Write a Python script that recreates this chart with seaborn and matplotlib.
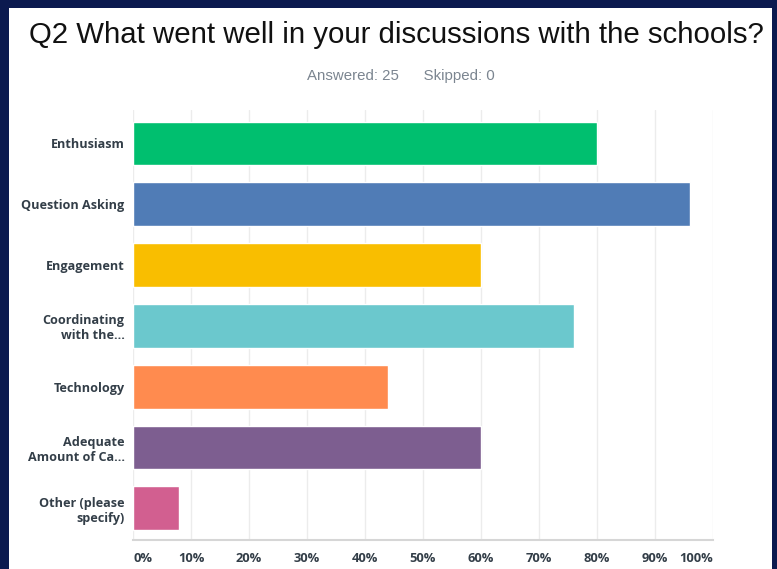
import pandas as pd
import numpy as np
import matplotlib.pyplot as plt
import seaborn as sns
from matplotlib.patches import Rectangle

sns.set_style("white")
plt.rcParams['font.family'] = ['Open Sans', 'DejaVu Sans']

answers = ['Enthusiasm', 'Question Asking', 'Engagement', 'Coordinating\nwith the...',
           'Technology', 'Adequate\nAmount of Ca...', 'Other (please\nspecify)']
percent = [80, 96, 60, 76, 44, 60, 8]
bar_colors = ['#00bf6f', '#507cb6', '#f9be00', '#6bc8cd', '#ff8b4f', '#7d5e90', '#d25f90']
x_ticks = [0, 10, 20, 30, 40, 50, 60, 70, 80, 90, 100]
x_tick_labels = ['0%', '10%', '20%', '30%', '40%', '50%', '60%', '70%', '80%', '90%', '100%']

df = pd.DataFrame({'answer': answers, 'percent': percent})

fig = plt.figure(figsize=(7.77, 5.69), dpi=100)
fig.patch.set_facecolor('#0b1a4f')
# white card on the navy background (drawn below the axes)
fig.patches.append(Rectangle((9 / 777, 0), 763 / 777, 1 - 8 / 569,
                             transform=fig.transFigure, facecolor='white',
                             edgecolor='none', zorder=-5))

ax = fig.add_axes([133 / 777, 1 - 540 / 569, 580 / 777, 430 / 569])
ax.set_facecolor('none')
sns.barplot(data=df, x='percent', y='answer', hue='answer', palette=bar_colors,
            legend=False, width=0.72, saturation=1, ax=ax, zorder=3)

ax.set_xlim(0, 100)
ax.set_ylim(6.52, -0.55)
ax.set_xticks(x_ticks)
ax.set_xticklabels(x_tick_labels)
ax.set_xlabel('')
ax.set_ylabel('')
ax.grid(axis='x', color='#ececec', linewidth=1, zorder=0)
ax.grid(axis='y', visible=False)

for side in ['top', 'right', 'left']:
    ax.spines[side].set_visible(False)
ax.spines['bottom'].set_color('#d6d6d6')
ax.spines['bottom'].set_linewidth(1.5)

ax.tick_params(axis='x', length=0, pad=9, labelsize=9.3, labelcolor='#333e48')
ax.tick_params(axis='y', length=0, pad=6, labelsize=9.1, labelcolor='#333e48')
for lbl in ax.get_xticklabels() + ax.get_yticklabels():
    lbl.set_fontweight('bold')
# end labels sit inside the axis span
ax.get_xticklabels()[0].set_horizontalalignment('left')
ax.get_xticklabels()[-1].set_horizontalalignment('right')

fig.text(396 / 777, 1 - 35 / 569, 'Q2 What went well in your discussions with the schools?',
         ha='center', va='center', fontsize=21.2, color='#111111',
         family=['Liberation Sans', 'DejaVu Sans'])
fig.text(401 / 777, 1 - 76 / 569, 'Answered: 25      Skipped: 0',
         ha='center', va='center', fontsize=10.8, color='#7b8590',
         family=['Liberation Sans', 'DejaVu Sans'])

plt.savefig('out.png', dpi=100, facecolor=fig.get_facecolor())
